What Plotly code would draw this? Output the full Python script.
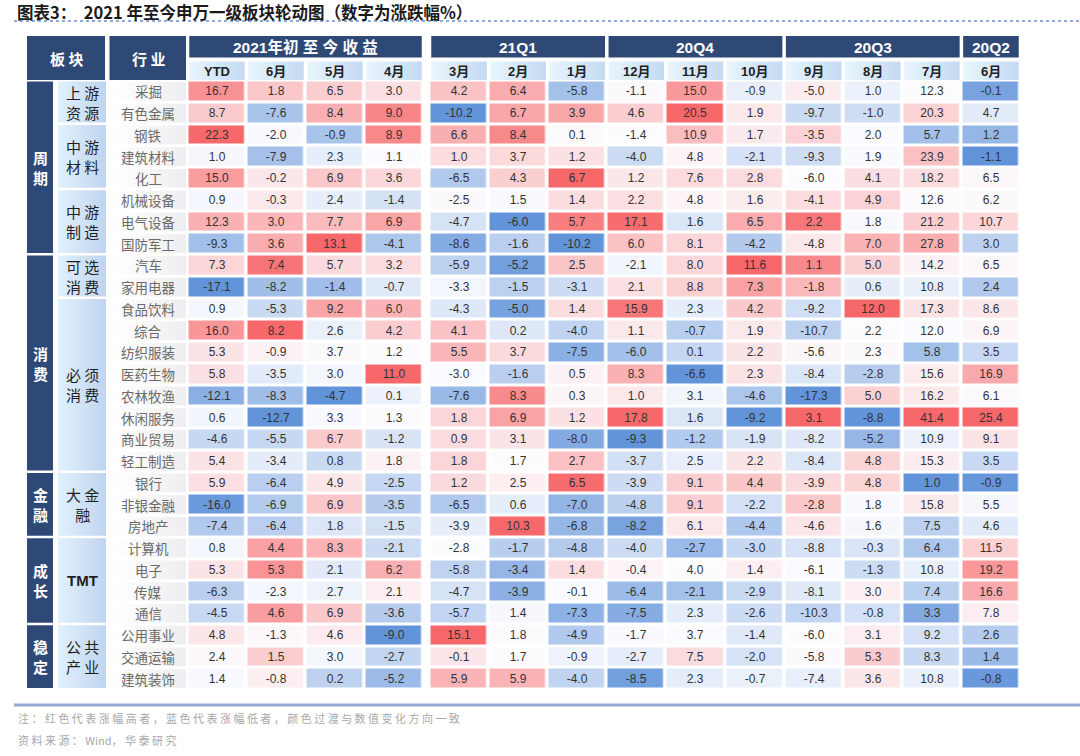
import plotly.graph_objects as go
import numpy as np

# ---------------- data ----------------
industries = ["采掘", "有色金属", "钢铁", "建筑材料", "化工", "机械设备", "电气设备", "国防军工",
              "汽车", "家用电器", "食品饮料", "综合", "纺织服装", "医药生物", "农林牧渔", "休闲服务",
              "商业贸易", "轻工制造", "银行", "非银金融", "房地产", "计算机", "电子", "传媒", "通信",
              "公用事业", "交通运输", "建筑装饰"]

sectors = ["周期", "消费", "金融", "成长", "稳定"]
sector_sizes = [8, 10, 3, 4, 3]
subsectors = ["上游资源", "中游材料", "中游制造", "可选消费", "必须消费", "大金融", "TMT", "公共产业"]
subsector_sizes = [2, 3, 3, 2, 8, 3, 4, 3]

period_groups = ["2021年初至今收益", "21Q1", "20Q4", "20Q3", "20Q2"]
period_group_sizes = [4, 3, 3, 3, 1]
column_labels = ["YTD", "6月", "5月", "4月", "3月", "2月", "1月", "12月", "11月", "10月",
                 "9月", "8月", "7月", "6月"]

ytd = [16.7, 8.7, 22.3, 1.0, 15.0, 0.9, 12.3, -9.3, 7.3, -17.1, 0.9, 16.0, 5.3, 5.8, -12.1, 0.6,
       -4.6, 5.4, 5.9, -16.0, -7.4, 0.8, 5.3, -6.3, -4.5, 4.8, 2.4, 1.4]
m2106 = [1.8, -7.6, -2.0, -7.9, -0.2, -0.3, 3.0, 3.6, 7.4, -8.2, -5.3, 8.2, -0.9, -3.5, -8.3, -12.7,
         -5.5, -3.4, -6.4, -6.9, -6.4, 4.4, 5.3, -2.3, 4.6, -1.3, 1.5, -0.8]
m2105 = [6.5, 8.4, -0.9, 2.3, 6.9, 2.4, 7.7, 13.1, 5.7, -1.4, 9.2, 2.6, 3.7, 3.0, -4.7, 3.3,
         6.7, 0.8, 4.9, 6.9, 1.8, 8.3, 2.1, 2.7, 6.9, 4.6, 3.0, 0.2]
m2104 = [3.0, 9.0, 8.9, 1.1, 3.6, -1.4, 6.9, -4.1, 3.2, -0.7, 6.0, 4.2, 1.2, 11.0, 0.1, 1.3,
         -1.2, 1.8, -2.5, -3.5, -1.5, -2.1, 6.2, 2.1, -3.6, -9.0, -2.7, -5.2]
m2103 = [4.2, -10.2, 6.6, 1.0, -6.5, -2.5, -4.7, -8.6, -5.9, -3.3, -4.3, 4.1, 5.5, -3.0, -7.6, 1.8,
         0.9, 1.8, 1.2, -6.5, -3.9, -2.8, -5.8, -4.7, -5.7, 15.1, -0.1, 5.9]
m2102 = [6.4, 6.7, 8.4, 3.7, 4.3, 1.5, -6.0, -1.6, -5.2, -1.5, -5.0, 0.2, 3.7, -1.6, 8.3, 6.9,
         3.1, 1.7, 2.5, 0.6, 10.3, -1.7, -3.4, -3.9, 1.4, 1.8, 1.7, 5.9]
m2101 = [-5.8, 3.9, 0.1, 1.2, 6.7, 1.4, 5.7, -10.2, 2.5, -3.1, 1.4, -4.0, -7.5, 0.5, 0.3, 1.2,
         -8.0, 2.7, 6.5, -7.0, -6.8, -4.8, 1.4, -0.1, -7.3, -4.9, -0.9, -4.0]
m2012 = [-1.1, 4.6, -1.4, -4.0, 1.2, 2.2, 17.1, 6.0, -2.1, 2.1, 15.9, 1.1, -6.0, 8.3, 1.0, 17.8,
         -9.3, -3.7, -3.9, -4.8, -8.2, -4.0, -0.4, -6.4, -7.5, -1.7, -2.7, -8.5]
m2011 = [15.0, 20.5, 10.9, 4.8, 7.6, 4.8, 1.6, 8.1, 8.0, 8.8, 2.3, -0.7, 0.1, -6.6, 3.1, 1.6,
         -1.2, 2.5, 9.1, 9.1, 6.1, -2.7, 4.0, -2.1, 2.3, 3.7, 7.5, 2.3]
m2010 = [-0.9, 1.9, 1.7, -2.1, 2.8, 1.6, 6.5, -4.2, 11.6, 7.3, 4.2, 1.9, 2.2, 2.3, -4.6, -9.2,
         -1.9, 2.2, 4.4, -2.2, -4.4, -3.0, 1.4, -2.9, -2.6, -1.4, -2.0, -0.7]
m2009 = [-5.0, -9.7, -3.5, -9.3, -6.0, -4.1, 2.2, -4.8, 1.1, -1.8, -9.2, -10.7, -5.6, -8.4, -17.3, 3.1,
         -8.2, -8.4, -3.9, -2.8, -4.6, -8.8, -6.1, -8.1, -10.3, -6.0, -5.8, -7.4]
m2008 = [1.0, -1.0, 2.0, 1.9, 4.1, 4.9, 1.8, 7.0, 5.0, 0.6, 12.0, 2.2, 2.3, -2.8, 5.0, -8.8,
         -5.2, 4.8, 4.8, 1.8, 1.6, -0.3, -1.3, 3.0, -0.8, 3.1, 5.3, 3.6]
m2007 = [12.3, 20.3, 5.7, 23.9, 18.2, 12.6, 21.2, 27.8, 14.2, 10.8, 17.3, 12.0, 5.8, 15.6, 16.2, 41.4,
         10.9, 15.3, 1.0, 15.8, 7.5, 6.4, 10.8, 7.4, 3.3, 9.2, 8.3, 10.8]
m2006 = [-0.1, 4.7, 1.2, -1.1, 6.5, 6.2, 10.7, 3.0, 6.5, 2.4, 8.6, 6.9, 3.5, 16.9, 6.1, 25.4,
         9.1, 3.5, -0.9, 5.5, 4.6, 11.5, 19.2, 16.6, 7.8, 2.6, 1.4, -0.8]

value_columns = [ytd, m2106, m2105, m2104, m2103, m2102, m2101, m2012, m2011, m2010,
                 m2009, m2008, m2007, m2006]

# ---------------- layout constants (pixel units) ----------------
W, H = 1080, 756
NAVY = "rgb(46,73,118)"
x1_start, x1_pitch = 187.5, 59.0
x2_start, x2_pitch = 429.5, 59.1
row_top, row_h = 80.5, 21.75
XGAP, YGAP = 3.5, 3.0
CJK = "Noto Sans CJK SC"
LAT = "Liberation Sans, Arial, Noto Sans CJK SC"

n_rows = len(industries)
n_first = period_group_sizes[0]
n_rest = len(column_labels) - n_first
x_edges = [x1_start + x1_pitch * i for i in range(n_first + 1)] + \
          [x2_start + x2_pitch * j for j in range(n_rest + 1)]
y_edges = [row_top + row_h * r for r in range(n_rows + 1)]
# data column index -> brick index (brick n_first is the spacer)
brick_of = [c if c < n_first else c + 1 for c in range(len(column_labels))]


def col_scale(col):
    a = np.array(col, dtype=float)
    med, lo, hi = np.median(a), a.min(), a.max()
    return [float((v - med) / (hi - med)) if v >= med else float((v - med) / (med - lo)) for v in a]


scaled = [col_scale(c) for c in value_columns]
n_bricks = len(x_edges) - 1
z, txt = [], []
for r in range(n_rows):
    zr, tr = [None] * n_bricks, [""] * n_bricks
    for c, col in enumerate(value_columns):
        zr[brick_of[c]] = scaled[c][r]
        tr[brick_of[c]] = f"{col[r]:.1f}"
    z.append(zr)
    txt.append(tr)

fig = go.Figure()


def grad_box(x0, x1, y0, y1, c1, c2):
    fig.add_trace(go.Scatter(
        x=[x0, x1, x1, x0, x0], y=[y0, y0, y1, y1, y0], mode="lines",
        line=dict(width=0), fill="toself",
        fillgradient=dict(type="horizontal", colorscale=[[0, c1], [1, c2]]),
        hoverinfo="skip", showlegend=False))


fig.add_trace(go.Heatmap(
    x=x_edges, y=y_edges, z=z, text=txt, texttemplate="%{text}",
    textfont=dict(family=LAT, size=12, color="#333333"),
    colorscale=[[0, "rgb(98,148,218)"], [0.5, "rgb(252,252,255)"], [1, "rgb(247,104,106)"]],
    zmin=-1, zmax=1, showscale=False, xgap=XGAP, ygap=YGAP, hoverinfo="skip",
))

shapes, annotations = [], []


def rect(x0, x1, y0, y1, color):
    shapes.append(dict(type="rect", xref="x", yref="y", x0=x0, x1=x1, y0=y0, y1=y1,
                       fillcolor=color, line=dict(width=0), layer="below"))


def label(x, y, text, size, color, family=CJK, anchor="center"):
    annotations.append(dict(x=x, y=y, xref="x", yref="y", text=text, showarrow=False,
                            xanchor=anchor, yanchor="middle",
                            font=dict(family=family, size=size, color=color)))


def spaced(s):
    return " ".join(list(s))


# title and rules
annotations.append(dict(x=15, y=11.5, xref="x", yref="y", xanchor="left", yanchor="middle",
                        showarrow=False,
                        text="<b>图表3：  2021 年至今申万一级板块轮动图（数字为涨跌幅%）</b>",
                        font=dict(family=CJK, size=16.5, color="#1a1a1a")))
shapes.append(dict(type="line", xref="x", yref="y", x0=14, x1=W, y0=21, y1=21,
                   line=dict(color="rgb(140,172,215)", width=2, dash="dot")))
shapes.append(dict(type="line", xref="x", yref="y", x0=14, x1=W, y0=705, y1=705,
                   line=dict(color="rgb(143,170,212)", width=3)))
annotations.append(dict(x=16, y=718, xref="x", yref="y", xanchor="left", yanchor="middle",
                        showarrow=False,
                        text=spaced("注：红色代表涨幅高者，蓝色代表涨幅低者，颜色过渡与数值变化方向一致"),
                        font=dict(family=CJK, size=11, color="#a8a8a8")))
annotations.append(dict(x=16, y=740, xref="x", yref="y", xanchor="left", yanchor="middle",
                        showarrow=False,
                        text=" ".join(list("资料来源：")) + " Wind， " + " ".join(list("华泰研究")),
                        font=dict(family=CJK, size=11, color="#a8a8a8")))

# header left boxes
hdr_top, hdr_mid, sub_top, sub_bot = 36, 57.5, 61.5, 80
rect(27, 105, hdr_top, sub_bot, NAVY)
label(66, (hdr_top + sub_bot) / 2, "<b>板 块</b>", 15, "white")
rect(109.5, 186, hdr_top, sub_bot, NAVY)
label(148, (hdr_top + sub_bot) / 2, "<b>行 业</b>", 15, "white")

# period headers
c0 = 0
for g, n in zip(period_groups, period_group_sizes):
    bl = brick_of[c0]
    br = brick_of[c0 + n - 1]
    gx0 = x_edges[bl] + XGAP / 2
    gx1 = x_edges[br + 1] - XGAP / 2
    rect(gx0, gx1, hdr_top, hdr_mid, NAVY)
    gtxt = g if "年" not in g else g[:5] + " ".join(list(g[5:]))
    label((gx0 + gx1) / 2, (hdr_top + hdr_mid) / 2 + 0.5, f"<b>{gtxt}</b>", 15.5, "white", LAT)
    for c in range(c0, c0 + n):
        b = brick_of[c]
        sx0, sx1 = x_edges[b] + XGAP / 2, x_edges[b + 1] - XGAP / 2
        grad_box(sx0, sx1, sub_top, sub_bot, "rgb(232,245,253)", "rgb(196,218,242)")
        label((sx0 + sx1) / 2, (sub_top + sub_bot) / 2 + 0.5, f"<b>{column_labels[c]}</b>", 13,
              "#222222", LAT)
    c0 += n

# sector boxes
r0 = 0
for s, n in zip(sectors, sector_sizes):
    y0, y1 = y_edges[r0] + 1, y_edges[r0 + n] - 1.5
    rect(27, 53, y0, y1, NAVY)
    label(40, (y0 + y1) / 2, "<b>" + "<br>".join(list(s)) + "</b>", 15, "white")
    r0 += n

# sub-sector boxes
r0 = 0
for s, n in zip(subsectors, subsector_sizes):
    y0, y1 = y_edges[r0] + 1, y_edges[r0 + n] - 1.5
    grad_box(58, 106, y0, y1, "rgb(224,241,253)", "rgb(192,212,238)")
    if s.isascii():
        t, fam = f"<b>{s}</b>", LAT
    else:
        t, fam = spaced(s[:2]) + "<br>" + spaced(s[2:]), CJK
    label(82, (y0 + y1) / 2, t, 15, "#1f1f1f", fam)
    r0 += n

# industry names
for r, name in enumerate(industries):
    y0, y1 = y_edges[r] + YGAP / 2, y_edges[r + 1] - YGAP / 2
    grad_box(112, 186, y0, y1, "rgb(255,255,255)", "rgb(238,238,240)")
    label(148, (y0 + y1) / 2, name, 13.5, "#6a6a6a")

fig.update_layout(
    width=W, height=H, margin=dict(l=0, r=0, t=0, b=0),
    paper_bgcolor="white", plot_bgcolor="white",
    xaxis=dict(range=[0, W], visible=False, fixedrange=True),
    yaxis=dict(range=[H, 0], visible=False, fixedrange=True),
    shapes=shapes, annotations=annotations, showlegend=False,
)
fig.write_html("out.html", config={"displayModeBar": False},
               post_script="document.body.style.margin='0px';")
